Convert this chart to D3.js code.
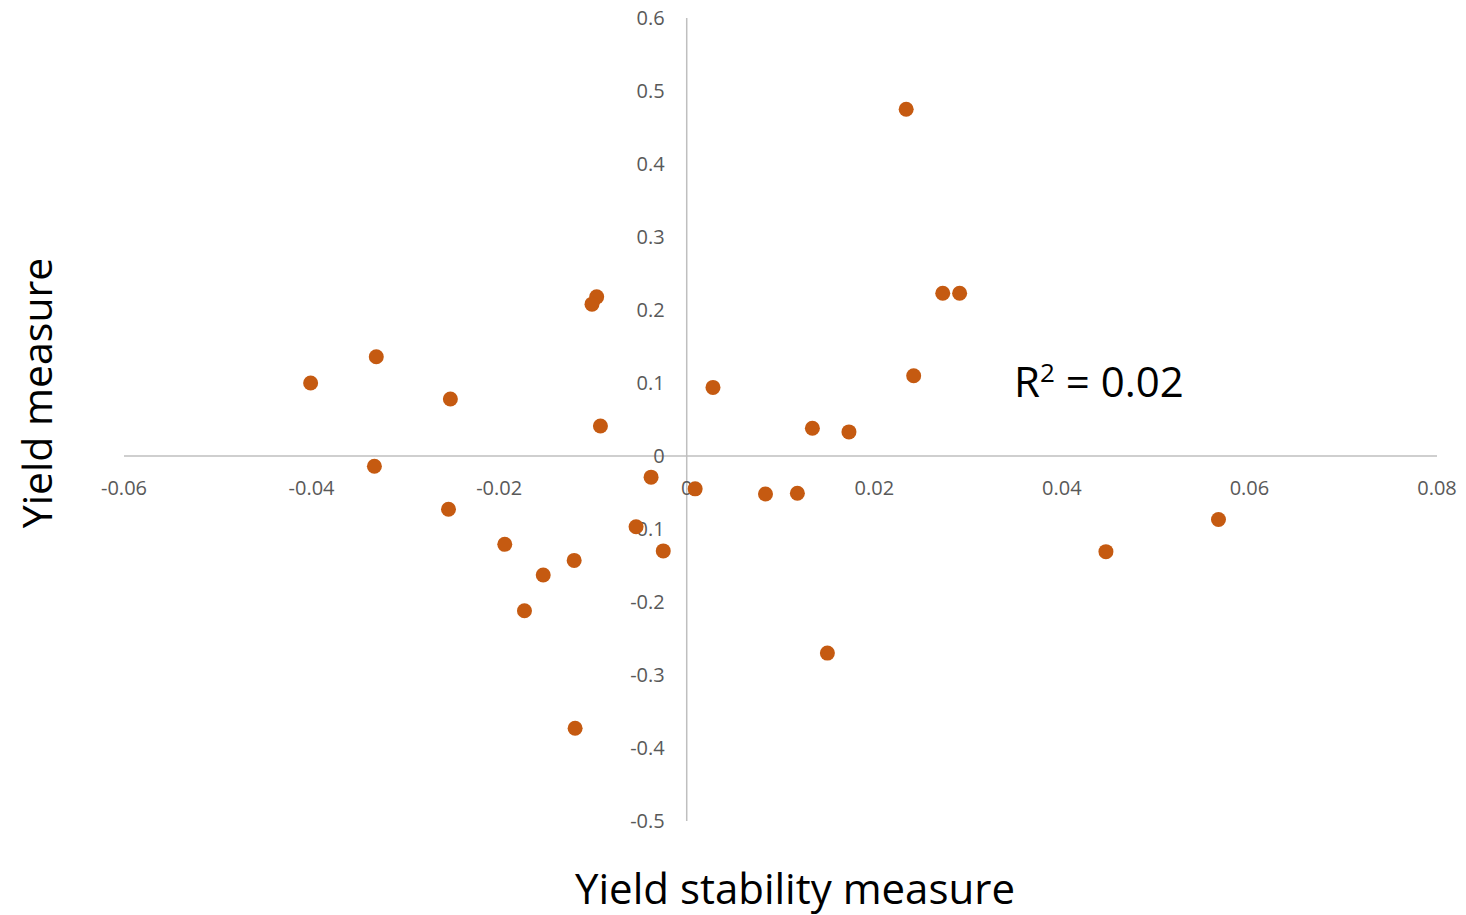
<!DOCTYPE html>
<html>
<head>
<meta charset="utf-8">
<script src="https://cdn.jsdelivr.net/npm/d3@7"></script>
<style>
  body { margin: 0; background: #fff; }
  text { font-family: "Open Sans", sans-serif; }
</style>
</head>
<body>
<div id="chart"></div>
<script>
// stability (x) vs yield (y)
const stability = [-0.0401, -0.0331, -0.0333, -0.0252, -0.0254, -0.0194, -0.0153, -0.0173, -0.0120, -0.0119,
  -0.0096, -0.0101, -0.0092, -0.0038, -0.0054, -0.0025, 0.0009, 0.0028, 0.0084, 0.0118,
  0.0134, 0.0173, 0.0150, 0.0234, 0.0273, 0.0291, 0.0242, 0.0447, 0.0567]
const yieldVals = [0.100, 0.136, -0.014, 0.078, -0.073, -0.121, -0.163, -0.212, -0.143, -0.373,
  0.218, 0.208, 0.041, -0.029, -0.097, -0.130, -0.045, 0.094, -0.052, -0.051,
  0.038, 0.033, -0.270, 0.475, 0.223, 0.223, 0.110, -0.131, -0.087]
const xTicks = [-0.06, -0.04, -0.02, 0, 0.02, 0.04, 0.06, 0.08]
const yTicks = [0.6, 0.5, 0.4, 0.3, 0.2, 0.1, 0, -0.1, -0.2, -0.3, -0.4, -0.5]
const rSquared = "0.02"

const width = 1466, height = 915
const plot = {left: 124, right: 1437, top: 18, bottom: 821}

const x = d3.scaleLinear([-0.06, 0.08], [plot.left, plot.right])
const y = d3.scaleLinear([-0.5, 0.6], [plot.bottom, plot.top])

const svg = d3.select("#chart").append("svg")
    .attr("width", width)
    .attr("height", height)

// axis lines cross at zero
svg.append("line")
    .attr("x1", plot.left).attr("x2", plot.right)
    .attr("y1", y(0)).attr("y2", y(0))
    .attr("stroke", "#bfbfbf").attr("stroke-width", 1.5)
svg.append("line")
    .attr("x1", x(0)).attr("x2", x(0))
    .attr("y1", plot.top).attr("y2", plot.bottom)
    .attr("stroke", "#bfbfbf").attr("stroke-width", 1.5)

// plain hyphen as in the original, not d3's unicode minus
const fmt = n => d => d === 0 ? "0" : d3.format("." + n + "f")(d).replace("\u2212", "-")

svg.append("g")
    .attr("fill", "#595959")
    .attr("font-size", 20)
    .attr("text-anchor", "middle")
  .selectAll("text")
  .data(xTicks)
  .join("text")
    .attr("x", d => x(d))
    .attr("y", y(0) + 39)
    .text(fmt(2))

svg.append("g")
    .attr("fill", "#595959")
    .attr("font-size", 20)
    .attr("text-anchor", "end")
  .selectAll("text")
  .data(yTicks)
  .join("text")
    .attr("x", x(0) - 22)
    .attr("y", d => y(d))
    .attr("dy", "0.35em")
    .text(fmt(1))

svg.append("g")
    .attr("fill", "#c55a11")
  .selectAll("circle")
  .data(stability.map((s, i) => [s, yieldVals[i]]))
  .join("circle")
    .attr("cx", d => x(d[0]))
    .attr("cy", d => y(d[1]))
    .attr("r", 7.5)

const r2 = svg.append("text")
    .attr("x", 1014)
    .attr("y", 397)
    .attr("font-size", 42)
    .attr("fill", "#000")
r2.append("tspan").text("R")
r2.append("tspan").attr("font-size", 26).attr("dy", -15).text("2")
r2.append("tspan").attr("dy", 15).text(" = " + rSquared)

svg.append("text")
    .attr("x", 795)
    .attr("y", 904)
    .attr("text-anchor", "middle")
    .attr("font-size", 42)
    .attr("fill", "#000")
    .text("Yield stability measure")

svg.append("text")
    .attr("transform", `translate(52,${393}) rotate(-90)`)
    .attr("text-anchor", "middle")
    .attr("font-size", 41)
    .attr("fill", "#000")
    .text("Yield measure")
</script>
</body>
</html>
